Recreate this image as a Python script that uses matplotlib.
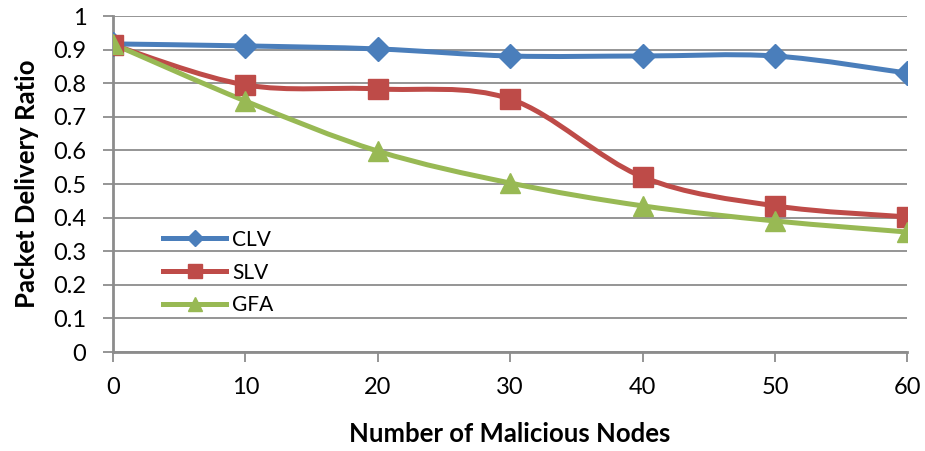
import matplotlib
matplotlib.use("Agg")
import matplotlib.pyplot as plt
import numpy as np
from matplotlib.path import Path
from matplotlib.patches import PathPatch
from matplotlib.lines import Line2D

plt.rcParams['font.family'] = ['Lato', 'DejaVu Sans']

nodes = [0, 10, 20, 30, 40, 50, 60]
clv = [0.917, 0.911, 0.902, 0.881, 0.881, 0.881, 0.830]
slv = [0.914, 0.795, 0.783, 0.753, 0.521, 0.435, 0.402]
gfa = [0.917, 0.747, 0.598, 0.503, 0.435, 0.390, 0.357]

series = [("CLV", clv, "#4A7EBB", "D", 12),
          ("SLV", slv, "#BE4B48", "s", 14),
          ("GFA", gfa, "#98B954", "^", 15)]


def smooth_path(x, y):
    # Catmull-Rom style bezier, like a spreadsheet "smoothed line"
    pts = np.column_stack([x, y]).astype(float)
    n = len(pts)
    verts = [pts[0]]
    codes = [Path.MOVETO]
    for i in range(n - 1):
        p0 = pts[i - 1] if i > 0 else pts[i]
        p1 = pts[i]
        p2 = pts[i + 1]
        p3 = pts[i + 2] if i + 2 < n else pts[i + 1]
        c1 = p1 + (p2 - p0) / 6.0
        c2 = p2 - (p3 - p1) / 6.0
        verts += [c1, c2, p2]
        codes += [Path.CURVE4] * 3
    return Path(verts, codes)


fig = plt.figure(figsize=(9.25, 4.51), dpi=100)
ax = fig.add_axes([0.122, 0.2195, 0.859, 0.745])

handles = []
for name, vals, col, mk, ms in series:
    ax.add_patch(PathPatch(smooth_path(nodes, vals), facecolor="none",
                           edgecolor=col, lw=3.6, zorder=3, capstyle="round"))
    ax.plot(nodes, vals, ls="none", marker=mk, ms=ms, color=col,
            markeredgecolor=col, zorder=4)
    handles.append(Line2D([], [], color=col, lw=3.6, marker=mk,
                          ms=ms * 0.7, label=name))

ax.set_xlim(0, 60)
ax.set_ylim(0, 1)
ax.set_xticks(nodes)
ax.set_yticks(np.arange(0, 1.01, 0.1))
ax.set_yticklabels(["0", "0.1", "0.2", "0.3", "0.4", "0.5", "0.6", "0.7",
                    "0.8", "0.9", "1"])
ax.grid(axis="y", color="#8C8C8C", lw=1.3)
ax.set_axisbelow(True)
for s in ["top", "right"]:
    ax.spines[s].set_visible(False)
for s in ["left", "bottom"]:
    ax.spines[s].set_color("#8C8C8C")
    ax.spines[s].set_linewidth(2)
ax.tick_params(axis="both", colors="#8C8C8C", length=7, width=1.3,
               labelcolor="black", labelsize=17)
ax.tick_params(axis="x", pad=11)
ax.tick_params(axis="y", pad=12)

ax.set_xlabel("Number of Malicious Nodes", fontsize=18.5, fontweight="bold",
              labelpad=17)
ax.set_ylabel("Packet Delivery Ratio", fontsize=18.5, fontweight="bold",
              labelpad=10)

ax.legend(handles=handles, loc="upper left", bbox_to_anchor=(0.04, 0.42),
          frameon=False, fontsize=15, handlelength=3.0, handletextpad=0.3,
          labelspacing=0.62)

fig.savefig("out.png", dpi=100)
